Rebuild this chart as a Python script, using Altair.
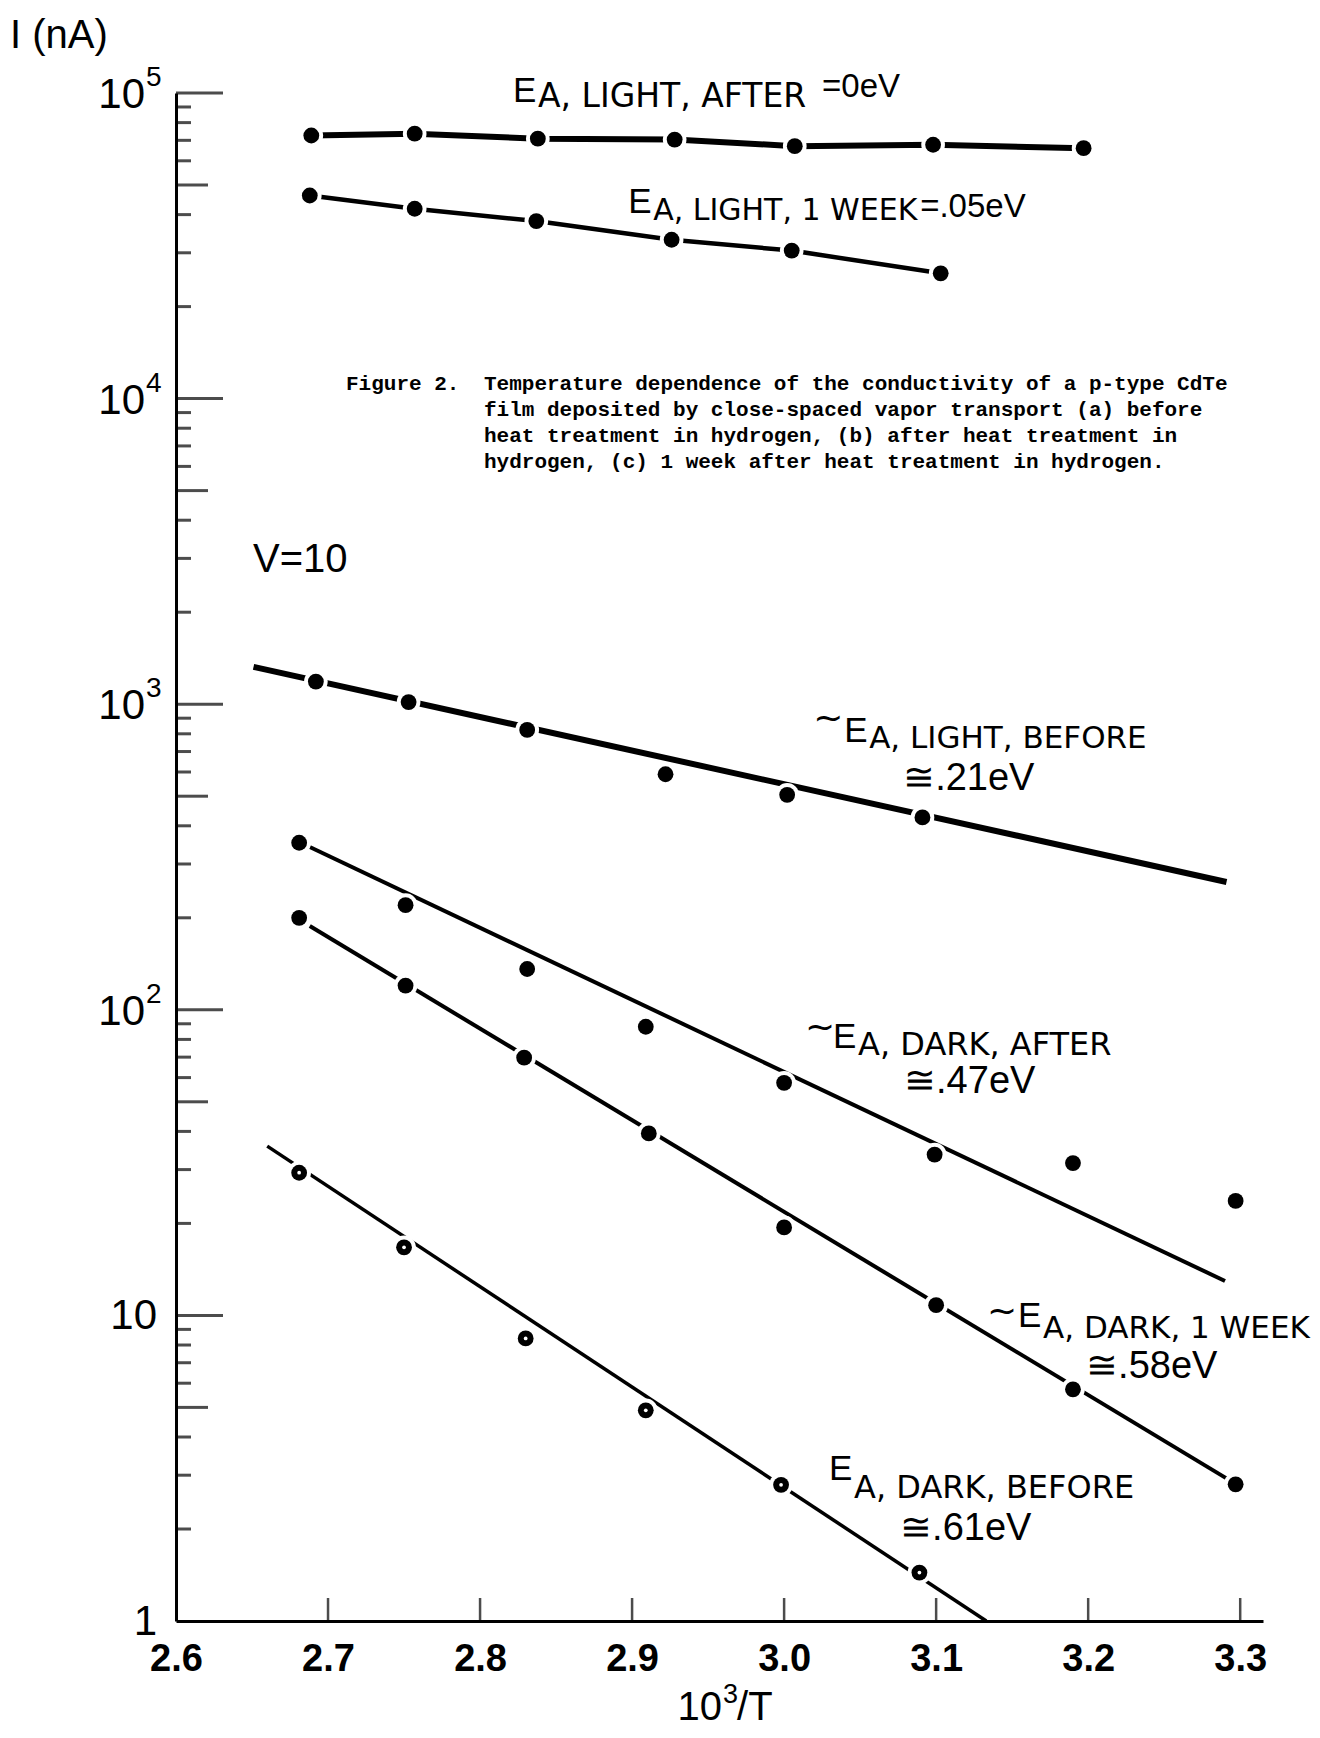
import altair as alt
import pandas as pd

# ---------------- data ----------------
# E_A, LIGHT, AFTER
s1_x = [2.689, 2.757, 2.838, 2.928, 3.007, 3.098, 3.197]
s1_y = [72600, 73600, 70900, 70400, 67000, 67700, 66000]
# E_A, LIGHT, 1 WEEK
s2_x = [2.688, 2.757, 2.837, 2.926, 3.005, 3.103]
s2_y = [46200, 41800, 38100, 33100, 30500, 25700]
# E_A, LIGHT, BEFORE
s3_x = [2.692, 2.753, 2.831, 2.922, 3.002, 3.091]
s3_y = [1186, 1016, 824, 590, 505, 426]
s3_fit_x = [2.651, 3.291]
s3_fit_y = [1325, 262]
# E_A, DARK, AFTER
s4_x = [2.681, 2.751, 2.831, 2.909, 3.000, 3.099, 3.190, 3.297]
s4_y = [352, 220, 136, 88, 57.7, 33.6, 31.5, 23.7]
s4_fit_x = [2.688, 3.290]
s4_fit_y = [341, 12.96]
# E_A, DARK, 1 WEEK
s5_x = [2.681, 2.751, 2.829, 2.911, 3.000, 3.100, 3.190, 3.297]
s5_y = [200, 120, 69.7, 39.4, 19.4, 10.8, 5.73, 2.80]
s5_fit_x = [2.688, 3.297]
s5_fit_y = [188, 2.81]
# E_A, DARK, BEFORE
s6_x = [2.681, 2.750, 2.830, 2.909, 2.998, 3.089]
s6_y = [29.3, 16.7, 8.41, 4.89, 2.79, 1.44]
s6_fit_x = [2.660, 3.133]
s6_fit_y = [35.8, 1.0]

x_tick_labels = [2.6, 2.7, 2.8, 2.9, 3.0, 3.1, 3.2, 3.3]
x_ticks = [2.7, 2.8, 2.9, 3.0, 3.1, 3.2, 3.3]
y_decades = [10, 100, 1000, 10000, 100000]
y_fives = [5, 50, 500, 5000, 50000]
y_minors = [2, 3, 4, 6, 7, 8, 9,
            20, 30, 40, 60, 70, 80, 90,
            200, 300, 400, 600, 700, 800, 900,
            2000, 3000, 4000, 6000, 7000, 8000, 9000,
            20000, 30000, 40000, 60000, 70000, 80000, 90000]
pow_y = [100000, 10000, 1000, 100]
pow_base = ["10", "10", "10", "10"]
pow_exp = ["5", "4", "3", "2"]
plain_y = [10, 1]
plain_text = ["10", "1"]

ann_x = [2.8217, 2.8974, 3.0395, 3.0322, 3.1539, 3.0296]
ann_y = [93500, 40500, 752, 75.0, 9.16, 2.893]
ann_tilde = ["", "", "~", "~", "~", ""]
ann_main = ["E", "E", "E", "E", "E", "E"]
ann_sub = ["A, LIGHT, AFTER", "A, LIGHT, 1 WEEK", "A, LIGHT, BEFORE",
           "A, DARK, AFTER", "A, DARK, 1 WEEK", "A, DARK, BEFORE"]
ann_val = ["=0eV", "=.05eV", "≅.21eV", "≅.47eV", "≅.58eV", "≅.61eV"]

caption_head = "Figure 2."
caption_lines = [
    "Temperature dependence of the conductivity of a p-type CdTe",
    "film deposited by close-spaced vapor transport (a) before",
    "heat treatment in hydrogen, (b) after heat treatment in",
    "hydrogen, (c) 1 week after heat treatment in hydrogen.",
]
caption_pos = (2.8026, 12130)
caption_head_x = 2.7118
v_text = "V=10"
v_pos = (2.6507, 2707)
ytitle_text = "I (nA)"
ytitle_pos = (2.4908, 140400)
xtitle_parts = ["10", "3", "/T"]
xtitle_pos = (2.9592, 1)

# ---------------- styles ----------------
SANS = "Liberation Sans"
WIDE = "DejaVu Sans"
MONO = "Liberation Mono"
X_DOMAIN = [2.6, 3.315]
Y_DOMAIN = [1, 100000]

xaxis = alt.Axis(values=x_tick_labels, format=".1f", ticks=False, grid=False,
                 domain=True, domainColor="black", domainWidth=3,
                 labelFont=SANS, labelFontSize=38, labelFontWeight="bold",
                 labelColor="black", labelPadding=19, labelFlush=False,
                 labelOverlap=False, title=None)
yaxis = alt.Axis(labels=False, ticks=False, grid=False, domain=True,
                 domainColor="black", domainWidth=3, title=None)


def X():
    return alt.X("x:Q", scale=alt.Scale(domain=X_DOMAIN, nice=False, zero=False), axis=xaxis)


def Y():
    return alt.Y("y:Q", scale=alt.Scale(type="log", domain=Y_DOMAIN, nice=False), axis=yaxis)


def df(xs, ys, **extra):
    d = {"x": list(xs), "y": list(ys)}
    d.update(extra)
    return pd.DataFrame(d)


def text_layer(xs, ys, texts, **mark):
    return alt.Chart(df(xs, ys, t=list(texts))).mark_text(color="black", **mark).encode(
        x=X(), y=Y(), text="t:N")


layers = []

# axis ticks (inward)
layers.append(alt.Chart(df([2.6] * len(y_decades), y_decades)).mark_tick(
    orient="horizontal", size=47, thickness=3, xOffset=23.5, color="black").encode(x=X(), y=Y()))
layers.append(alt.Chart(df([2.6] * len(y_fives), y_fives)).mark_tick(
    orient="horizontal", size=32, thickness=3, xOffset=16, color="black").encode(x=X(), y=Y()))
layers.append(alt.Chart(df([2.6] * len(y_minors), y_minors)).mark_tick(
    orient="horizontal", size=15, thickness=3, xOffset=7.5, color="black").encode(x=X(), y=Y()))
layers.append(alt.Chart(df(x_ticks, [1] * len(x_ticks))).mark_tick(
    orient="vertical", size=23, thickness=2.5, yOffset=-11.5, color="black").encode(x=X(), y=Y()))

# lines
line_specs = [
    (s1_x, s1_y, 6),
    (s2_x, s2_y, 4.5),
    (s3_fit_x, s3_fit_y, 6),
    (s4_fit_x, s4_fit_y, 4),
    (s5_fit_x, s5_fit_y, 4),
    (s6_fit_x, s6_fit_y, 3.5),
]
for lx, ly, w in line_specs:
    layers.append(alt.Chart(df(lx, ly, o=list(range(len(lx))))).mark_line(
        color="black", strokeWidth=w, strokeCap="butt").encode(x=X(), y=Y(), order="o:Q"))

# points (white halo breaks the line around each dot)
all_x = s1_x + s2_x + s3_x + s4_x + s5_x + s6_x
all_y = s1_y + s2_y + s3_y + s4_y + s5_y + s6_y
pts = df(all_x, all_y)
layers.append(alt.Chart(pts).mark_circle(color="white", opacity=1, size=560).encode(x=X(), y=Y()))
layers.append(alt.Chart(pts).mark_circle(color="black", opacity=1, size=250).encode(x=X(), y=Y()))
layers.append(alt.Chart(df(s6_x, s6_y)).mark_circle(color="white", opacity=1, size=14).encode(x=X(), y=Y()))

# y-axis labels
layers.append(text_layer([2.6] * 4, pow_y, pow_base, align="right", baseline="middle",
                         dx=-31, dy=2, font=SANS, fontSize=42))
layers.append(text_layer([2.6] * 4, pow_y, pow_exp, align="left", baseline="middle",
                         dx=-30, dy=-15, font=SANS, fontSize=28))
layers.append(text_layer([2.6] * 2, plain_y, plain_text, align="right", baseline="middle",
                         dx=-19, dy=1, font=SANS, fontSize=42))

# x-axis title 10^3/T
layers.append(text_layer([xtitle_pos[0]], [xtitle_pos[1]], [xtitle_parts[0]], align="right",
                         baseline="alphabetic", dy=99, font=SANS, fontSize=40))
layers.append(text_layer([xtitle_pos[0]], [xtitle_pos[1]], [xtitle_parts[1]], align="left",
                         baseline="alphabetic", dx=1, dy=82, font=SANS, fontSize=27))
layers.append(text_layer([xtitle_pos[0]], [xtitle_pos[1]], [xtitle_parts[2]], align="left",
                         baseline="alphabetic", dx=15, dy=99, font=SANS, fontSize=40))
# y-axis title
layers.append(text_layer([ytitle_pos[0]], [ytitle_pos[1]], [ytitle_text], align="left",
                         baseline="alphabetic", font=SANS, fontSize=40))

# V=10
layers.append(text_layer([v_pos[0]], [v_pos[1]], [v_text], align="left",
                         baseline="alphabetic", font=SANS, fontSize=40))

# caption
layers.append(text_layer([caption_head_x], [caption_pos[1]], [caption_head], align="left",
                         baseline="top", font=MONO, fontSize=21, fontWeight="bold"))
layers.append(alt.Chart(df([caption_pos[0]], [caption_pos[1]])).mark_text(
    align="left", baseline="top", font=MONO, fontSize=21, fontWeight="bold", color="black",
    lineHeight=26, text=caption_lines
).encode(x=X(), y=Y()))

# annotations
sub_dy = [5, 7, 6, 7, 11, 18]
sub_size = [33, 30, 31, 32, 31, 32]
tilde_off = [None, None, (-31, -12), (-28, -9), (-31, -4), None]
val_off = [(309, -5), (292, 4), (59, 48), (71, 45), (68, 51), (71, 60)]
val_size = [33, 33, 38, 38, 38, 38]
for i in range(len(ann_x)):
    ax, ay = [ann_x[i]], [ann_y[i]]
    layers.append(text_layer(ax, ay, [ann_main[i]], align="left", baseline="alphabetic",
                             font=SANS, fontSize=35))
    layers.append(text_layer(ax, ay, [ann_sub[i]], align="left", baseline="alphabetic",
                             dx=25, dy=sub_dy[i], font=WIDE, fontSize=sub_size[i]))
    layers.append(text_layer(ax, ay, [ann_val[i]], align="left", baseline="alphabetic",
                             dx=val_off[i][0], dy=val_off[i][1], font=SANS, fontSize=val_size[i]))
    if ann_tilde[i]:
        layers.append(text_layer(ax, ay, [ann_tilde[i]], align="left", baseline="alphabetic",
                                 dx=tilde_off[i][0], dy=tilde_off[i][1], font=WIDE, fontSize=36))

chart = alt.layer(*layers).properties(
    width=1087, height=1528,
    autosize=alt.AutoSizeParams(type="none"),
    padding={"left": 168, "top": 85, "right": 48, "bottom": 108},
    background="white",
).configure_view(stroke=None)

chart.save("out.html", embed_options={"renderer": "svg", "actions": False})
